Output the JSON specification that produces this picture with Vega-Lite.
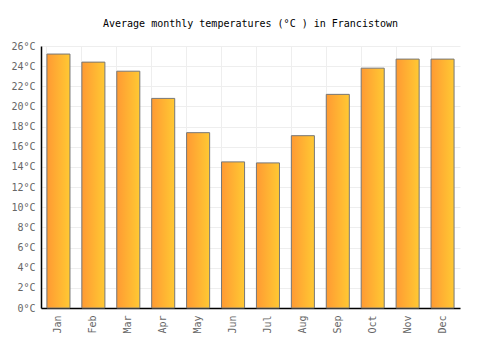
{
  "$schema": "https://vega.github.io/schema/vega-lite/v6.json",
  "width": 419,
  "height": 262,
  "autosize": {"type": "none"},
  "padding": {"left": 41, "top": 46, "right": 40, "bottom": 42},
  "background": "white",
  "title": {
    "text": "Average monthly temperatures (°C ) in Francistown",
    "font": "DejaVu Sans Mono",
    "fontSize": 10,
    "fontWeight": "normal",
    "color": "#000000",
    "anchor": "middle",
    "offset": 12
  },
  "data": {
    "values": [
      {"month": "Jan", "temp": 25.2},
      {"month": "Feb", "temp": 24.4},
      {"month": "Mar", "temp": 23.5},
      {"month": "Apr", "temp": 20.8},
      {"month": "May", "temp": 17.4},
      {"month": "Jun", "temp": 14.5},
      {"month": "Jul", "temp": 14.4},
      {"month": "Aug", "temp": 17.1},
      {"month": "Sep", "temp": 21.2},
      {"month": "Oct", "temp": 23.8},
      {"month": "Nov", "temp": 24.7},
      {"month": "Dec", "temp": 24.7}
    ]
  },
  "config": {
    "view": {"stroke": null},
    "axis": {
      "labelFont": "DejaVu Sans Mono",
      "labelFontSize": 10,
      "labelColor": "#666666",
      "gridColor": "#eeeeee",
      "gridWidth": 1,
      "domainColor": "#000000",
      "domainWidth": 1.5,
      "ticks": false,
      "title": null
    }
  },
  "mark": {
    "type": "bar",
    "stroke": "#777777",
    "strokeWidth": 1,
    "color": {
      "gradient": "linear",
      "x1": 0, "y1": 0, "x2": 1, "y2": 0,
      "stops": [
        {"offset": 0, "color": "#ff9a33"},
        {"offset": 1, "color": "#ffc933"}
      ]
    }
  },
  "encoding": {
    "x": {
      "field": "month",
      "type": "nominal",
      "sort": null,
      "scale": {"paddingInner": 0.34, "paddingOuter": 0.17},
      "axis": {
        "labelAngle": -90,
        "labelPadding": 7,
        "grid": true,
        "bandPosition": 0,
        "domain": true
      }
    },
    "y": {
      "field": "temp",
      "type": "quantitative",
      "scale": {"domain": [0, 26], "nice": false},
      "axis": {
        "values": [0, 2, 4, 6, 8, 10, 12, 14, 16, 18, 20, 22, 24, 26],
        "labelExpr": "datum.value + '°C'",
        "labelPadding": 6,
        "grid": true
      }
    }
  }
}
